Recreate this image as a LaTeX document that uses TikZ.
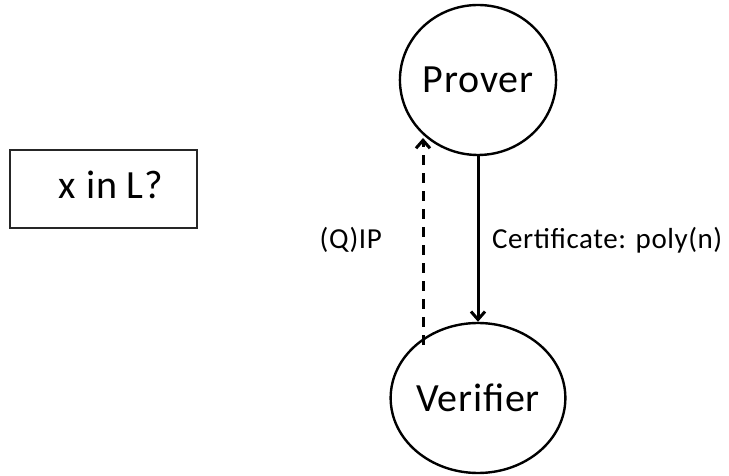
\documentclass[tikz,border=0pt]{standalone}
\usepackage{fontspec}
\setmainfont{Carlito}[LetterSpace=2]
\usetikzlibrary{shapes.geometric,arrows.meta}
\begin{document}
\begin{tikzpicture}[x=1bp,y=-1bp,
  party/.style={draw,ellipse,line width=2.4bp,minimum width=155bp,minimum height=150bp,inner sep=0pt,font=\fontsize{40bp}{46bp}\selectfont},
  querybox/.style={draw=black!85,line width=1.6bp,minimum width=187bp,minimum height=78bp,inner sep=0pt},
  bigtext/.style={font=\fontsize{40bp}{46bp}\selectfont,inner sep=0pt},
  edgelabel/.style={font=\fontsize{29bp}{33bp}\selectfont,inner sep=0pt},
  msg/.style={line width=3bp,-{Straight Barb[length=8bp,width=14bp,line width=3bp]}}]
\useasboundingbox (0,0) rectangle (729,476);
% the two parties
\node[party] (prover) at (478,80) {Prover};
\node[party] (verifier) at (478,398) {Verifier};
% the question being decided
\node[querybox] (box) at (103.5,189) {};
\node[bigtext,anchor=base] (question) at (111,199) {x in L?};
% messages between prover and verifier
\coordinate (dtop) at (423,138);
\coordinate (dbot) at (423,345);
\draw[msg] (prover.south) -- (verifier.north);
\draw[msg,dash pattern=on 10bp off 8bp] (dbot) -- (dtop);
\node[edgelabel,anchor=base east] (qip) at (382,249) {(Q)IP};
\node[edgelabel,anchor=base west] (cert) at (492,249) {Certificate: poly(n)};
\end{tikzpicture}
\end{document}
